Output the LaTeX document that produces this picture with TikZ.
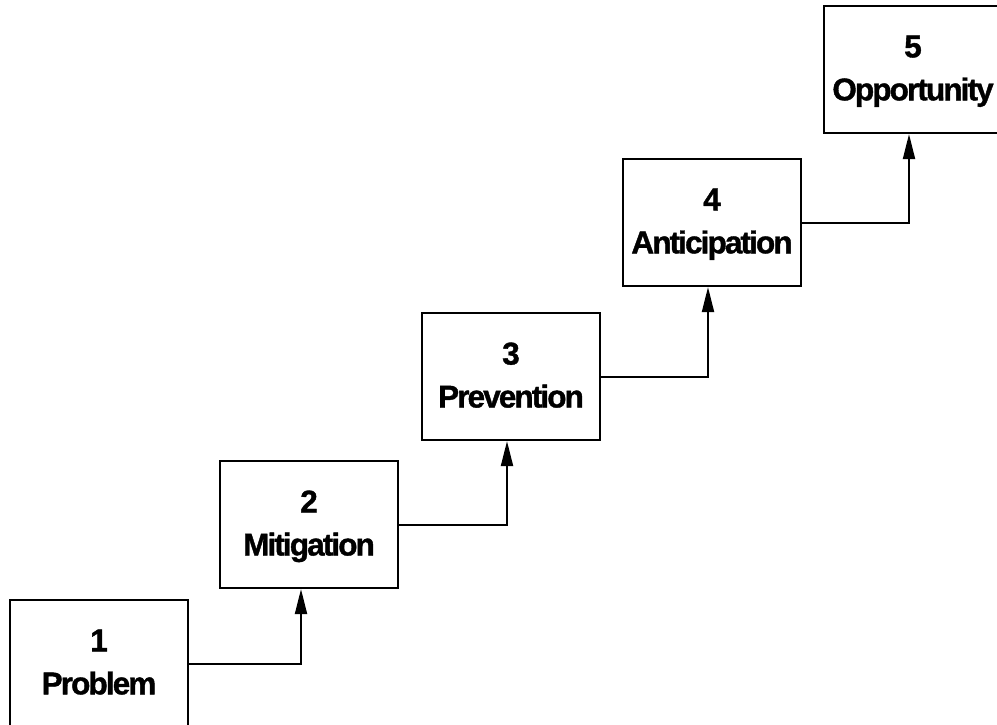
\documentclass[tikz,border=0pt]{standalone}
\usepackage{fontspec}
\setmainfont{Liberation Sans}[LetterSpace=-6, BoldFeatures={FakeBold=1.2}]
\usetikzlibrary{arrows.meta}
\begin{document}
\begin{tikzpicture}[
    x=1pt, y=-1pt,
    stage/.style={draw, line width=2.2pt, minimum width=178pt, minimum height=127pt,
      inner sep=0pt, align=center, text depth=3pt,
      font=\fontsize{31.5}{43}\selectfont\bfseries},
    link/.style={line width=2pt, -{Triangle[length=25pt,width=12pt]}}
    ]
   \useasboundingbox (0,0) rectangle (997,724);
   \clip (0,0) rectangle (997,724);
   % stages, from the bottom left up to the top right
   \node[stage] (s1) at (99,663.5) {1\\Problem};
   \node[stage] (s2) at (309,524.5) {2\\Mitigation};
   \node[stage] (s3) at (511,376.5) {3\\Prevention};
   \node[stage] (s4) at (712,222.5) {4\\Anticipation};
   \node[stage] (s5) at (913,69.5) {5\\Opportunity};
   % links between the stages
   \draw[link] (s1.east) -| ([xshift=-8pt]s2.south);
   \draw[link] (s2.east) -| ([xshift=-4pt]s3.south);
   \draw[link] (s3.east) -| ([xshift=-4pt]s4.south);
   \draw[link] (s4.east) -| ([xshift=-4pt]s5.south);
\end{tikzpicture}
\end{document}
